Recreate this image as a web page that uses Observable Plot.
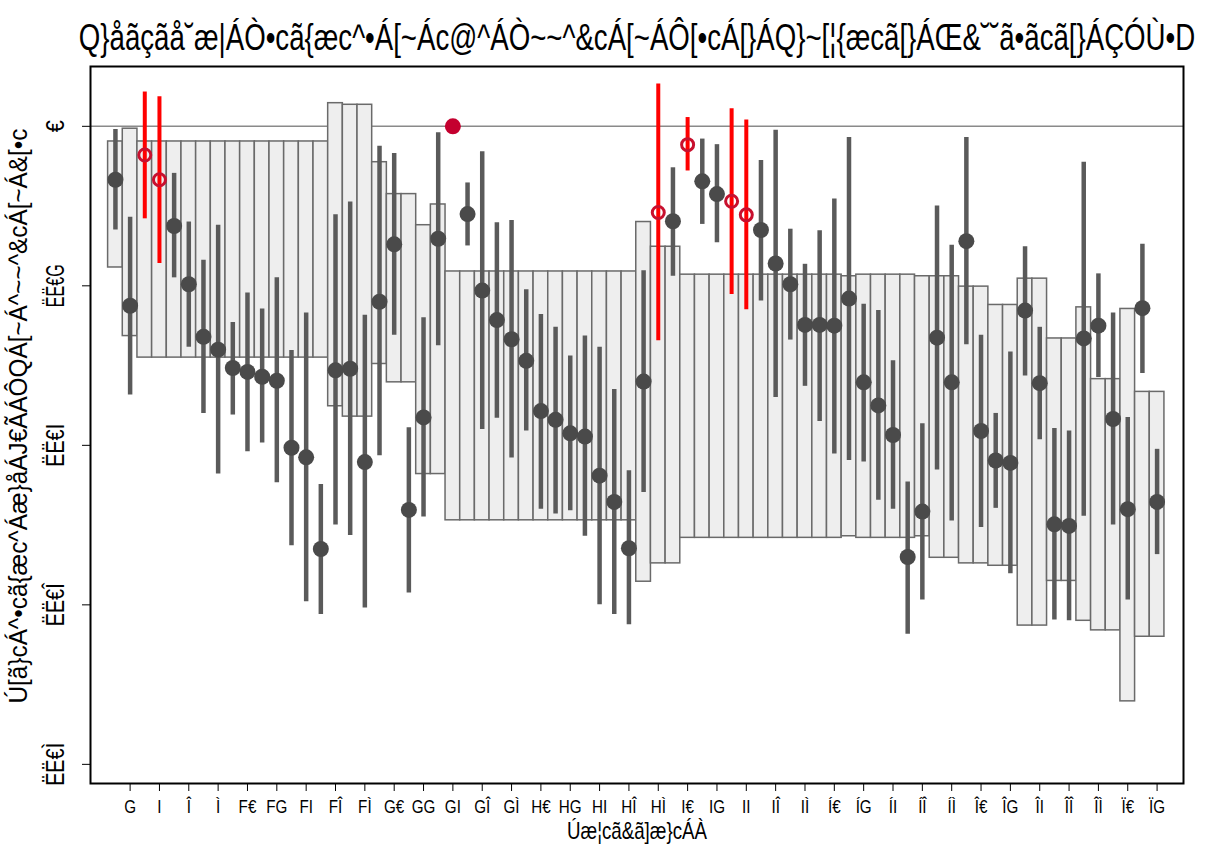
<!DOCTYPE html>
<html>
<head>
<meta charset="utf-8">
<script src="https://cdn.jsdelivr.net/npm/d3@7"></script>
<script src="https://cdn.jsdelivr.net/npm/@observablehq/plot@0.6"></script>
<style>
  html, body { margin: 0; padding: 0; background: #ffffff; }
  #chart { width: 1209px; height: 850px; }
</style>
</head>
<body>
<div id="chart"></div>
<script>
// ---- text (as shown in the reference) ----
const titleText = "Q}åãçãå˘æ|ÁÒ•cã{æc^•Á[~Ác@^ÁÒ~~^&cÁ[~ÁÔ[•cÁ[}ÁQ}~[¦{æcã[}ÁŒ&˘˘ã•ãcã[}ÁÇÓÙ•D";
const xTitle = "Úæ¦cã&ã]æ}cÁÀ";
const yTitle = "Ú[ã}cÁ^•cã{æc^Áæ}åÁJ€ÃÁÔQÁ[~Á^~~^&cÁ[~Á&[•c";

// ---- ticks ----
const yTicks = [0, -0.2, -0.4, -0.6, -0.8];
const yTickLabels = ["€", "ËË€G", "ËË€I", "ËË€Î", "ËË€Ì"];
const xTicks = [2,4,6,8,10,12,14,16,18,20,22,24,26,28,30,32,34,36,38,40,42,44,46,48,50,52,54,56,58,60,62,64,66,68,70,72];
const xTickLabels = ["G","I","Î","Ì","F€","FG","FI","FÎ","FÌ","G€","GG","GI","GÎ","GÌ","H€","HG","HI","HÎ","HÌ","I€","IG","II","IÎ","IÌ","Í€","ÍG","ÍI","ÍÎ","ÍÌ","Î€","ÎG","ÎI","ÎÎ","ÎÌ","Ï€","ÏG"];

// ---- data ----
const participant = [1,2,3,4,5,6,7,8,9,10,11,12,13,14,15,16,17,18,19,20,21,22,23,24,25,26,27,28,29,30,31,32,33,34,35,36,37,38,39,40,41,42,43,44,45,46,47,48,49,50,51,52,53,54,55,56,57,58,59,60,61,62,63,64,65,66,67,68,69,70,71,72];
const estimate = [-0.067,-0.225,-0.036,-0.067,-0.125,-0.198,-0.264,-0.280,-0.303,-0.308,
  -0.314,-0.319,-0.403,-0.415,-0.530,-0.306,-0.304,-0.421,-0.220,-0.148,
  -0.481,-0.365,-0.141,0,-0.110,-0.206,-0.243,-0.267,-0.294,-0.357,
  -0.368,-0.385,-0.389,-0.438,-0.471,-0.529,-0.320,-0.108,-0.119,-0.023,
  -0.069,-0.085,-0.094,-0.111,-0.130,-0.172,-0.198,-0.249,-0.249,-0.250,
  -0.216,-0.321,-0.350,-0.387,-0.540,-0.483,-0.265,-0.321,-0.144,-0.382,
  -0.419,-0.422,-0.231,-0.322,-0.499,-0.501,-0.266,-0.250,-0.367,-0.480,
  -0.228,-0.471];
const ciHigh = [-0.004,-0.114,0.043,0.037,-0.059,-0.120,-0.168,-0.124,-0.246,-0.209,
  -0.229,-0.190,-0.281,-0.234,-0.449,-0.111,-0.095,-0.237,-0.025,-0.034,
  -0.378,-0.240,-0.008,null,-0.071,-0.032,-0.121,-0.118,-0.205,-0.236,
  -0.252,-0.288,-0.263,-0.277,-0.330,-0.432,-0.181,0.053,-0.052,0.011,
  -0.016,-0.023,0.022,0.008,-0.043,-0.005,-0.129,-0.173,-0.131,-0.091,
  -0.014,-0.223,-0.231,-0.294,-0.446,-0.373,-0.100,-0.149,-0.014,-0.262,
  -0.360,-0.283,-0.151,-0.252,-0.379,-0.382,-0.045,-0.185,-0.234,-0.365,
  -0.148,-0.405];
const ciLow = [-0.130,-0.337,-0.116,-0.172,-0.190,-0.277,-0.360,-0.436,-0.362,-0.408,
  -0.397,-0.447,-0.526,-0.596,-0.612,-0.500,-0.513,-0.604,-0.413,-0.262,
  -0.585,-0.490,-0.275,null,-0.150,-0.380,-0.366,-0.416,-0.382,-0.480,
  -0.486,-0.482,-0.514,-0.600,-0.612,-0.625,-0.459,-0.269,-0.188,-0.056,
  -0.123,-0.146,-0.211,-0.230,-0.219,-0.340,-0.268,-0.326,-0.370,-0.411,
  -0.419,-0.421,-0.469,-0.480,-0.637,-0.594,-0.431,-0.495,-0.274,-0.503,
  -0.479,-0.561,-0.313,-0.393,-0.619,-0.620,-0.489,-0.315,-0.500,-0.594,
  -0.310,-0.537];
const boxHigh = [-0.019,-0.003,-0.019,-0.019,-0.019,-0.019,-0.019,-0.019,-0.019,-0.019,
  -0.019,-0.019,-0.019,-0.019,-0.019,0.029,0.027,0.027,-0.045,-0.085,
  -0.085,-0.124,-0.098,-0.182,-0.182,-0.182,-0.182,-0.182,-0.182,-0.182,
  -0.182,-0.182,-0.182,-0.182,-0.182,-0.182,-0.120,-0.151,-0.151,-0.186,
  -0.186,-0.186,-0.186,-0.186,-0.186,-0.186,-0.186,-0.186,-0.186,-0.186,
  -0.188,-0.186,-0.186,-0.186,-0.186,-0.188,-0.188,-0.188,-0.201,-0.201,
  -0.224,-0.224,-0.191,-0.191,-0.266,-0.266,-0.227,-0.317,-0.317,-0.229,
  -0.333,-0.333];
const boxLow = [-0.177,-0.263,-0.290,-0.290,-0.290,-0.290,-0.290,-0.290,-0.290,-0.290,
  -0.290,-0.290,-0.290,-0.290,-0.290,-0.351,-0.364,-0.364,-0.298,-0.321,
  -0.321,-0.436,-0.436,-0.494,-0.494,-0.494,-0.494,-0.494,-0.494,-0.494,
  -0.494,-0.494,-0.494,-0.494,-0.494,-0.494,-0.571,-0.548,-0.548,-0.516,
  -0.516,-0.516,-0.516,-0.516,-0.516,-0.516,-0.516,-0.516,-0.516,-0.516,
  -0.514,-0.516,-0.516,-0.516,-0.516,-0.514,-0.541,-0.541,-0.548,-0.548,
  -0.551,-0.551,-0.626,-0.626,-0.570,-0.570,-0.620,-0.632,-0.632,-0.721,
  -0.640,-0.640];
// n = regular, o = highlighted (open red), f = highlighted (filled red)
const pointType = ["n","n","o","o","n","n","n","n","n","n",
  "n","n","n","n","n","n","n","n","n","n",
  "n","n","n","f","n","n","n","n","n","n",
  "n","n","n","n","n","n","n","o","n","o",
  "n","n","o","o","n","n","n","n","n","n",
  "n","n","n","n","n","n","n","n","n","n",
  "n","n","n","n","n","n","n","n","n","n",
  "n","n"];

const rows = participant.map((p, i) => ({
  p, est: estimate[i], lo: ciLow[i], hi: ciHigh[i],
  bLo: boxLow[i], bHi: boxHigh[i], type: pointType[i]
}));

const font = "'Liberation Sans', Arial, sans-serif";

const chart = Plot.plot({
  width: 1209,
  height: 850,
  marginTop: 66,
  marginBottom: 67,
  marginLeft: 90,
  marginRight: 26,
  style: { fontFamily: font, color: "#000", background: "#fff" },
  x: { domain: [-0.7, 73.8], label: null },
  y: { domain: [-0.824, 0.075], label: null },
  marks: [
    Plot.ruleY([0], { stroke: "#8a8a8a", strokeWidth: 1.5 }),
    Plot.rect(rows, {
      x1: d => d.p - 0.5, x2: d => d.p + 0.5, y1: "bLo", y2: "bHi",
      fill: "#eeeeee", stroke: "#6a6a6a", strokeWidth: 1.5
    }),
    Plot.ruleX(rows.filter(d => d.type === "n" && d.lo != null), {
      x: "p", y1: "lo", y2: "hi", stroke: "#5a5a5a", strokeWidth: 4.5
    }),
    Plot.ruleX(rows.filter(d => d.type === "o" && d.lo != null), {
      x: "p", y1: "lo", y2: "hi", stroke: "#ff0000", strokeWidth: 4
    }),
    Plot.dot(rows.filter(d => d.type === "n"), {
      x: "p", y: "est", r: 8, fill: "#4a4a4a", stroke: "none"
    }),
    Plot.dot(rows.filter(d => d.type === "o"), {
      x: "p", y: "est", r: 6, fill: "none", stroke: "#c8102e", strokeWidth: 3
    }),
    Plot.dot(rows.filter(d => d.type === "f"), {
      x: "p", y: "est", r: 8, fill: "#c4002f", stroke: "none"
    }),
    Plot.frame({ stroke: "#000", strokeWidth: 2 }),
    Plot.axisX({
      ticks: xTicks, tickSize: 8, tickPadding: 8, fontSize: 19, label: null,
      tickFormat: d => xTickLabels[xTicks.indexOf(d)]
    }),
    Plot.axisY({ ticks: yTicks, tickSize: 8, label: null, tickFormat: () => "" }),
    Plot.text(yTicks, {
      y: d => d, text: (d, i) => yTickLabels[i], frameAnchor: "left",
      dx: -35, rotate: -90, fontSize: 25, textAnchor: "middle", lineAnchor: "middle"
    }),
    Plot.text([titleText], {
      text: d => d, frameAnchor: "top", dy: -28, fontSize: 36, textAnchor: "middle", lineAnchor: "middle"
    }),
    Plot.text([xTitle], {
      text: d => d, frameAnchor: "bottom", dy: 48, fontSize: 24, textAnchor: "middle", lineAnchor: "middle"
    }),
    Plot.text([yTitle], {
      text: d => d, frameAnchor: "left", dx: -72, dy: -9, rotate: -90, fontSize: 26,
      textAnchor: "middle", lineAnchor: "middle"
    })
  ]
});

document.getElementById("chart").appendChild(chart);

// condense the glyphs horizontally (narrow face of the reference)
const yLabelSet = new Set(yTickLabels);
const xLabelSet = new Set(xTickLabels);
function measure(t) {
  let n = 0;
  try { n = t.getComputedTextLength(); } catch (e) { n = 0; }
  if (!(n > 0)) { try { n = t.getBBox().width; } catch (e) { n = 0; } }
  return n;
}
// a text drawn at a smaller size whose width is natural, then stretched vertically
function narrowByScale(t, size, target) {
  const n = measure(t);
  if (!(n > 0)) {
    t.setAttribute("textLength", String(target));
    t.setAttribute("lengthAdjust", "spacingAndGlyphs");
    return;
  }
  const s2 = size * target / n;
  t.style.fontSize = s2 + "px";
  const k = size / s2;
  const tr = t.getAttribute("transform") || "";
  t.setAttribute("transform", (tr + ` scale(1,${k.toFixed(4)})`).trim());
}
chart.querySelectorAll("text").forEach(t => {
  const s = t.textContent;
  if (s === titleText) { narrowByScale(t, 36, 1117); return; }
  let len = null;
  if (s === xTitle) len = 140;
  else if (s === yTitle) len = 575;
  else if (yLabelSet.has(s)) len = s.length === 1 ? 12 : 43;
  else if (xLabelSet.has(s)) {
    const n = measure(t);
    len = n > 0 ? n * 0.8 : null;
  }
  if (len != null) {
    t.setAttribute("textLength", String(len));
    t.setAttribute("lengthAdjust", "spacingAndGlyphs");
  }
});
</script>
</body>
</html>
